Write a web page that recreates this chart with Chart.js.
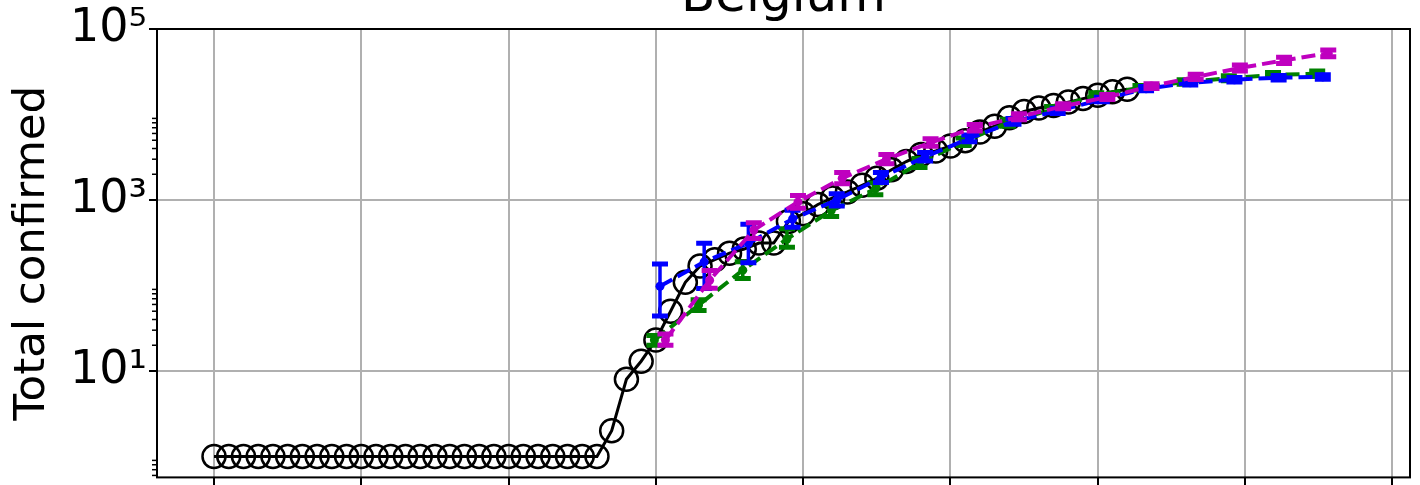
<!DOCTYPE html>
<html lang="en">
<head>
<meta charset="UTF-8">
<title>Belgium</title>
<script src="https://cdn.jsdelivr.net/npm/chart.js@4.4.0/dist/chart.umd.min.js"></script>
<style>
  html, body { margin: 0; padding: 0; background: #fff; overflow: hidden; }
  body { width: 1420px; height: 485px; position: relative; }
  /* canvas is a bit taller than the page: title top and x labels fall outside */
  .chartWrapper { position: absolute; left: 0; top: -30px; width: 1420px; height: 537px; }
</style>
</head>
<body>

<div class="chartWrapper">
  <canvas id="casesChart"></canvas>
</div>

<script>
  // ticks
  var dayTicks = [0, 10, 20, 30, 40, 50, 60, 70, 80];
  var majorTicks = [10, 1000, 100000];
  var majorLabels = ['10¹', '10³', '10⁵'];
  var minorTicks = [0.6, 0.7, 0.8, 0.9,
                    20, 30, 40, 50, 60, 70, 80, 90,
                    2000, 3000, 4000, 5000, 6000, 7000, 8000, 9000];

  // observed totals, one per day starting at day 0
  var confirmed = [1, 1, 1, 1, 1, 1, 1, 1, 1, 1,
                   1, 1, 1, 1, 1, 1, 1, 1, 1, 1,
                   1, 1, 1, 1, 1, 1, 1, 2, 8, 13,
                   23, 50, 109, 169, 200, 239, 267, 314, 314, 559,
                   689, 886, 1058, 1243, 1486, 1795, 2257, 2815, 3401, 3743,
                   4269, 4937, 6235, 7284, 9134, 10836, 11899, 12775, 13964, 15348,
                   16770, 18431, 19691];

  // model runs, every third day
  var forecastDays = [30, 33, 36, 39, 42, 45, 48, 51, 54, 57, 60, 63, 66, 69, 72, 75];

  var greenFit  = [23, 59, 151, 350, 750, 1350, 2700, 4800, 8000, 11500, 17000, 20500, 24000, 26500, 29000, 30000];
  var greenLow  = [20, 51, 121, 280, 640, 1150, 2400, 4350, 7300, 10700, 16000, 19300, 22600, 24800, 27000, 27800];
  var greenHigh = [26, 68, 190, 460, 880, 1580, 3050, 5300, 8800, 12400, 18000, 21800, 25500, 28300, 31000, 32300];

  var blueFit  = [98, 189, 312, 600, 1000, 1830, 3200, 5250, 8300, 11000, 15000, 20000, 23500, 25500, 27000, 27500];
  var blueLow  = [44, 92, 185, 480, 850, 1600, 2850, 4800, 7700, 10300, 14100, 18900, 22200, 24000, 25400, 25800];
  var blueHigh = [178, 311, 520, 760, 1180, 2100, 3600, 5750, 8950, 11800, 15900, 21200, 24800, 27000, 28600, 29200];

  var magentaFit  = [23, 115, 445, 950, 1800, 3000, 4700, 7000, 9400, 12500, 16000, 21500, 27500, 35000, 43000, 52000];
  var magentaLow  = [20, 93, 355, 800, 1550, 2650, 4250, 6400, 8700, 11700, 15000, 20200, 25600, 32200, 39500, 47500];
  var magentaHigh = [27, 150, 540, 1130, 2100, 3400, 5200, 7650, 10200, 13400, 17100, 22900, 29500, 38000, 46800, 56900];

  var FONT = "'DejaVu Sans', sans-serif";
  Chart.defaults.font.family = FONT;
  Chart.defaults.color = '#000';

  function toPoints(xs, ys, shift) {
    return xs.map(function (x, i) { return { x: x + shift, y: ys[i] }; });
  }

  var confirmedPoints = confirmed.map(function (v, i) { return { x: i, y: v }; });

  function forecastSet(label, colour, values, low, high, shift, order) {
    return {
      label: label,
      data: toPoints(forecastDays, values, shift),
      errLow: low,
      errHigh: high,
      errShift: shift,
      borderColor: colour,
      backgroundColor: colour,
      borderWidth: 4,
      borderDash: [14, 6],
      pointRadius: 4.5,
      pointBorderWidth: 0,
      pointBackgroundColor: colour,
      fill: false,
      tension: 0,
      order: order
    };
  }

  // vertical error bars with caps, drawn right after their own line
  var errorBars = {
    id: 'errorBars',
    afterDatasetDraw: function (chart, args) {
      var ds = chart.data.datasets[args.index];
      if (!ds.errLow) return;
      var xs = chart.scales.x, ys = chart.scales.y, ctx = chart.ctx;
      ctx.save();
      ctx.strokeStyle = ds.borderColor;
      forecastDays.forEach(function (d, i) {
        var x = xs.getPixelForValue(d + ds.errShift);
        var yLo = ys.getPixelForValue(ds.errLow[i]);
        var yHi = ys.getPixelForValue(ds.errHigh[i]);
        ctx.lineWidth = 3.5;
        ctx.beginPath();
        ctx.moveTo(x, yLo);
        ctx.lineTo(x, yHi);
        ctx.stroke();
        ctx.lineWidth = 5;
        ctx.beginPath();
        ctx.moveTo(x - 8, yLo); ctx.lineTo(x + 8, yLo);
        ctx.moveTo(x - 8, yHi); ctx.lineTo(x + 8, yHi);
        ctx.stroke();
      });
      ctx.restore();
    }
  };

  // box round the plot, short minor ticks on the log axis, title over the plot
  var frame = {
    id: 'frame',
    afterDraw: function (chart) {
      var a = chart.chartArea, ctx = chart.ctx, ys = chart.scales.y;
      ctx.save();
      ctx.strokeStyle = '#000';
      ctx.lineWidth = 1.5;
      minorTicks.forEach(function (v) {
        var y = ys.getPixelForValue(v);
        if (y < a.top || y > a.bottom) return;
        ctx.beginPath();
        ctx.moveTo(a.left - 5, y);
        ctx.lineTo(a.left, y);
        ctx.stroke();
      });
      ctx.lineWidth = 2;
      ctx.strokeRect(a.left, a.top, a.right - a.left, a.bottom - a.top);

      ctx.fillStyle = '#000';
      ctx.font = '50px ' + FONT;
      ctx.textAlign = 'center';
      ctx.textBaseline = 'alphabetic';
      ctx.fillText('Belgium', (a.left + a.right) / 2, a.top - 18);
      ctx.restore();
    }
  };

  var ctxCases = document.getElementById('casesChart').getContext('2d');

  var casesChart = new Chart(ctxCases, {
    type: 'line',
    data: {
      datasets: [
        forecastSet('Model C', '#bf00bf', magentaFit, magentaLow, magentaHigh, 0.65, 1),
        forecastSet('Model B', '#0000ff', blueFit, blueLow, blueHigh, 0.28, 2),
        forecastSet('Model A', '#008000', greenFit, greenLow, greenHigh, -0.1, 3),
        {
          label: 'Confirmed',
          data: confirmedPoints,
          borderColor: '#000',
          borderWidth: 3,
          pointRadius: 11.5,
          pointBorderWidth: 2.5,
          pointBorderColor: '#000',
          pointBackgroundColor: 'rgba(0,0,0,0)',
          fill: false,
          tension: 0,
          order: 4
        }
      ]
    },
    options: {
      responsive: true,
      maintainAspectRatio: false,
      animation: false,
      layout: { autoPadding: false, padding: { left: 0, right: 10, top: 59, bottom: 0 } },
      plugins: {
        legend: { display: false },
        tooltip: { enabled: false },
        title: { display: false }
      },
      scales: {
        x: {
          type: 'linear',
          min: -3.87,
          max: 81.2,
          afterBuildTicks: function (scale) {
            scale.ticks = dayTicks.map(function (v) { return { value: v }; });
          },
          afterFit: function (scale) { scale.height = 20; },
          ticks: { display: false },
          border: { display: false },
          grid: { color: '#b0b0b0', lineWidth: 2, tickLength: 8, tickColor: '#000', tickWidth: 2 }
        },
        y: {
          type: 'logarithmic',
          min: 0.569,
          max: 100000,
          afterBuildTicks: function (scale) {
            scale.ticks = majorTicks.map(function (v) { return { value: v }; });
          },
          afterFit: function (scale) { scale.width = 157; },
          ticks: {
            autoSkip: false,
            padding: 2,
            font: { size: 46 },
            callback: function (value) {
              var i = majorTicks.indexOf(value);
              return i >= 0 ? majorLabels[i] : '';
            }
          },
          border: { display: false },
          grid: { color: '#b0b0b0', lineWidth: 2, tickLength: 8, tickColor: '#000', tickWidth: 2 },
          title: {
            display: true,
            text: 'Total confirmed',
            color: '#000',
            font: { size: 43.5 },
            padding: { top: 7, bottom: 0 }
          }
        }
      }
    },
    plugins: [errorBars, frame]
  });
</script>
</body>
</html>
